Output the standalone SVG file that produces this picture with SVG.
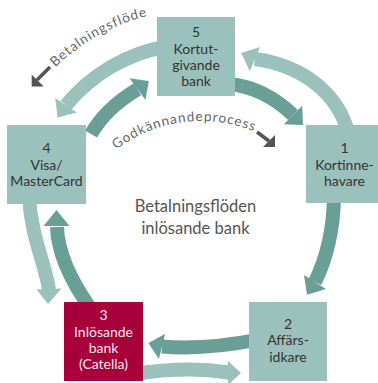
<svg xmlns="http://www.w3.org/2000/svg" width="378" height="383" viewBox="0 0 378 383">
<style>
.lt{fill:none;stroke:#9bc1bd;stroke-width:14}
.lth{fill:#9bc1bd}
.dk{fill:none;stroke:#6a9f98;stroke-width:14}
.dkh{fill:#6a9f98}
.box{fill:#9bc1bd}
.red{fill:#a8003a}
.bt{font-family:Lato,"Liberation Sans",sans-serif;font-size:14px;fill:#333;text-anchor:middle}
.wt{fill:#f7e6ec}
.title{font-family:Lato,"Liberation Sans",sans-serif;font-size:16.5px;fill:#555;text-anchor:middle}
.lbl{font-family:Lato,"Liberation Sans",sans-serif;font-size:13.5px;fill:#666;letter-spacing:1px}
.ga{fill:none;stroke:#555;stroke-width:3.5}
.gah{fill:#555}
</style>
<defs>
<path id="p1" d="M55.4,67.4 A201,201 0 0 1 161.1,13.1"/>
<path id="p2" d="M116.2,149.6 A140,140 0 0 1 271,139.8"/>
</defs>
<g id="connectors">
<path class="lt" d="M348,132 C338,95 305,66 255,59"/>
<polygon class="lth" points="260.2,47 241.2,53 249.8,71"/>
<path class="lt" d="M167,46.5 A167,167 0 0 0 66,105.2"/>
<polygon class="lth" points="76.8,112.5 57.6,117.6 55.2,97.9"/>
<path class="lt" d="M29,196 C31,238 46,265 49,290"/>
<polygon class="lth" points="36.5,289.5 48,304 61.5,288.5"/>
<path class="lt" d="M135,374 Q185,366 229,372.5"/>
<polygon class="lth" points="228,361 241,373 228,385"/>
<path class="dk" d="M256,340 Q205,350 162,346.5"/>
<polygon class="dkh" points="165.1,333.9 148.4,343.1 158.9,359.1"/>
<path class="dk" d="M90,308 Q58,262 57,227"/>
<polygon class="dkh" points="43.5,226 56.5,210 69.5,226"/>
<path class="dk" d="M91,134 Q106,108 137.5,89.2"/>
<polygon class="dkh" points="145.5,100.1 148.8,81 129.5,78.3"/>
<path class="dk" d="M230,84 Q265,88 293,115"/>
<polygon class="dkh" points="283.8,124.2 303,125 302.2,105.8"/>
<path class="dk" d="M334,198 Q333,245 315,282"/>
<polygon class="dkh" points="326,288.9 307,294.8 304,275.1"/>
</g>
<g id="node5">
<rect class="box" x="157" y="17" width="78" height="79"/>
<text class="bt" x="196" y="37">5</text>
<text class="bt" x="196" y="53.5">Kortut-</text>
<text class="bt" x="196" y="70">givande</text>
<text class="bt" x="196" y="86">bank</text>
</g>
<g id="node1">
<rect class="box" x="306" y="125" width="78" height="78"/>
<text class="bt" x="344.5" y="153">1</text>
<text class="bt" x="344.5" y="170">Kortinne-</text>
<text class="bt" x="344.5" y="186">havare</text>
</g>
<g id="node4">
<rect class="box" x="7" y="125" width="79" height="79"/>
<text class="bt" x="46.5" y="153">4</text>
<text class="bt" x="46.5" y="170">Visa/</text>
<text class="bt" x="46.5" y="186">MasterCard</text>
</g>
<g id="node3">
<rect class="red" x="64" y="302" width="79" height="79"/>
<text class="bt wt" x="103.5" y="320">3</text>
<text class="bt wt" x="103.5" y="337">Inlösande</text>
<text class="bt wt" x="103.5" y="353">bank</text>
<text class="bt wt" x="103.5" y="369">(Catella)</text>
</g>
<g id="node2">
<rect class="box" x="249" y="302" width="78" height="79"/>
<text class="bt" x="288" y="329">2</text>
<text class="bt" x="288" y="345">Affärs-</text>
<text class="bt" x="288" y="361.5">idkare</text>
</g>
<g id="title">
<text class="title" x="195.5" y="212">Betalningsflöden</text>
<text class="title" x="195.5" y="233.5">inlösande bank</text>
</g>
<g id="label-betalningsflode">
<text class="lbl"><textPath href="#p1">Betalningsflöde</textPath></text>
<path class="ga" d="M50,67 L37,80"/>
<polygon class="gah" points="31.7,86.5 31.7,74.5 43.7,86.5"/>
</g>
<g id="label-godkannande">
<text class="lbl"><textPath href="#p2">Godkännandeprocess</textPath></text>
<path class="ga" d="M257,132 L269,141"/>
<polygon class="gah" points="275,147 275,135 263,147"/>
</g>
</svg>
